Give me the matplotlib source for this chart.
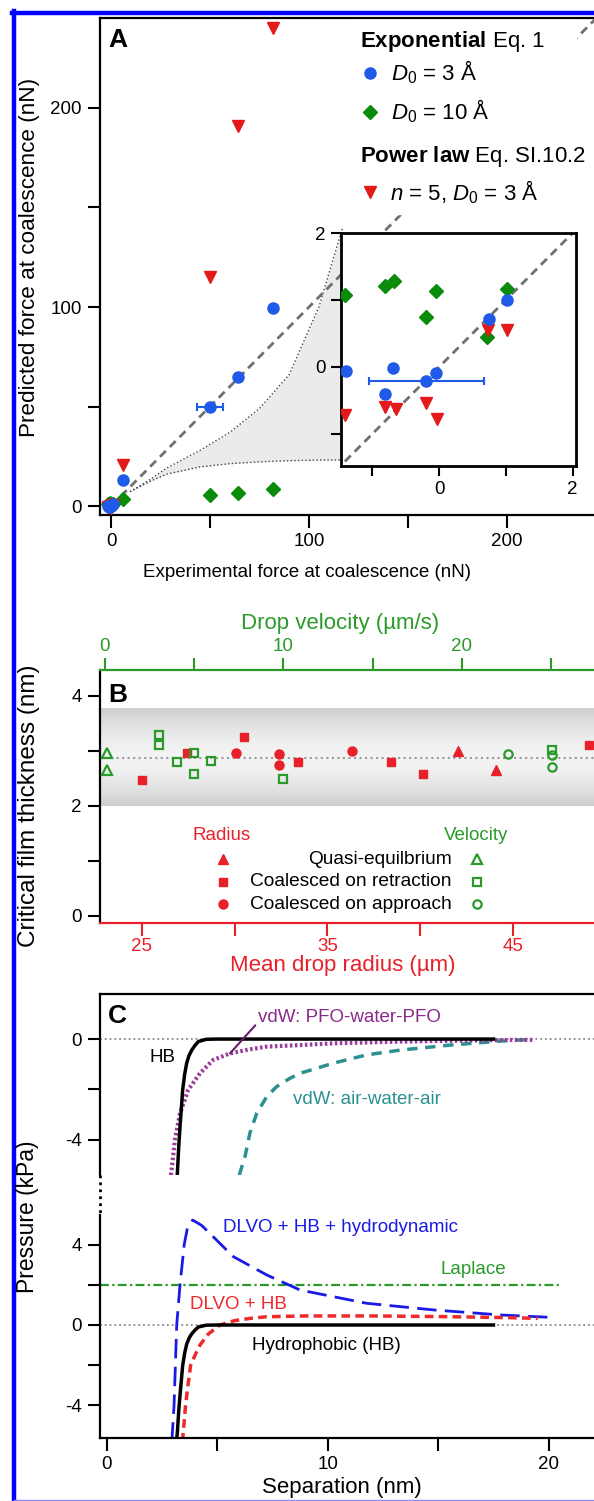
import numpy as np
import matplotlib
matplotlib.use('Agg')
import matplotlib.pyplot as plt
from matplotlib.lines import Line2D
from matplotlib.patches import Rectangle

plt.rcParams['font.family'] = ['Liberation Sans', 'DejaVu Sans']
plt.rcParams['mathtext.fontset'] = 'custom'
plt.rcParams['mathtext.rm'] = 'Liberation Sans'
plt.rcParams['mathtext.it'] = 'Liberation Sans:italic'
plt.rcParams['mathtext.bf'] = 'Liberation Sans:bold'
plt.rcParams['axes.unicode_minus'] = False
plt.rcParams['xtick.labelsize'] = 13.5
plt.rcParams['ytick.labelsize'] = 13.5

# ---- panel A : predicted vs experimental force (nN) ----
a_blue_x = [6, 50, 64, 82]
a_blue_y = [13, 50, 65, 99.5]
a_blue_xerr = [0, 6.6, 0, 0]
a_green_x = [6, 50, 64, 82]
a_green_y = [3.5, 5.5, 6.5, 8.5]
a_red_x = [6, 50, 64, 82]
a_red_y = [20.6, 115, 191, 240]

# small forces, shown in the inset (and near the origin of the main plot)
in_blue_x = [-1.39, -0.685, -0.81, -0.195, -0.045, 0.74, 1.015]
in_blue_y = [-0.055, -0.02, -0.40, -0.205, -0.085, 0.715, 1.0]
in_blue_xerr = [0, 0, 0, 0.86, 0, 0, 0]
in_green_x = [-1.41, -0.81, -0.67, -0.045, -0.195, 1.01, 0.715]
in_green_y = [1.08, 1.21, 1.29, 1.13, 0.75, 1.16, 0.445]
in_red_x = [-1.41, -0.81, -0.65, -0.195, -0.035, 0.73, 1.015]
in_red_y = [-0.72, -0.595, -0.635, -0.535, -0.785, 0.555, 0.555]

# bounds of the grey region
band_x = [9.6, 20, 28, 45, 60, 75, 90, 105, 117]
band_lo = [7.2, 12.5, 16, 19.7, 21.3, 22.2, 22.8, 23.1, 23.2]
band_hi = [7.2, 13.5, 19, 28, 37, 49, 66, 100, 140]

# ---- panel B : critical film thickness (nm) ----
vel_tri_x = [0.15, 0.15]
vel_tri_y = [2.97, 2.65]
vel_sq_x = [3.04, 3.04, 4.03, 5.0, 5.0, 5.93, 10.0, 25.06]
vel_sq_y = [3.29, 3.11, 2.79, 2.97, 2.58, 2.81, 2.48, 3.02]
vel_circ_x = [22.6, 25.06, 25.06]
vel_circ_y = [2.95, 2.92, 2.71]

rad_tri_x = [42.05, 44.06]
rad_tri_y = [2.99, 2.65]
rad_sq_x = [25.0, 27.42, 30.53, 33.43, 38.43, 40.13, 49.1]
rad_sq_y = [2.47, 2.97, 3.25, 2.79, 2.79, 2.58, 3.11]
rad_circ_x = [30.1, 32.41, 32.41, 36.31]
rad_circ_y = [2.97, 2.95, 2.75, 2.99]

h_mean = 2.87
h_band = (2.0, 3.78)

# ---- panel C : pressure (kPa) vs separation (nm) ----
hb_x = [3.16, 3.2, 3.26, 3.32, 3.44, 3.53, 3.62, 3.73, 3.85, 4.0, 4.15, 4.5, 5.0, 8, 12, 17.5]
hb_y = [-5.8, -5.33, -4.3, -3.48, -2.02, -1.4, -0.96, -0.65, -0.44, -0.25, -0.1, -0.01, 0, 0, 0, 0]
pfo_x = [2.88, 2.94, 3.09, 3.32, 3.69, 4.22, 4.82, 5.58, 6.4, 7.24, 8.75, 10.25, 13.27, 17.8, 19.3]
pfo_y = [-5.6, -5.2, -4.0, -2.95, -2.02, -1.36, -0.83, -0.57, -0.42, -0.3, -0.24, -0.17, -0.1, -0.04, -0.03]
air_x = [6.0, 6.26, 6.48, 6.79, 7.24, 7.69, 8.29, 8.75, 10.25, 11.76, 13.27, 15.53, 17.8, 19.3]
air_y = [-5.4, -4.67, -3.74, -2.95, -2.29, -1.89, -1.56, -1.36, -0.96, -0.63, -0.44, -0.24, -0.08, -0.01]
dlvo_x = [3.43, 3.57, 3.68, 3.8, 4.0, 4.22, 4.6, 5.13, 5.8, 6.5, 7.24, 9, 12, 15, 18, 19.5]
dlvo_y = [-5.8, -4.0, -3.0, -2.0, -1.5, -1.0, -0.45, 0.0, 0.22, 0.33, 0.41, 0.45, 0.45, 0.42, 0.37, 0.33]
hydro_x = [2.95, 3.05, 3.17, 3.32, 3.51, 3.65, 3.89, 4.3, 4.82, 5.73, 7.24, 8.75, 10.25, 11.76, 14.78, 17.8, 20.06]
hydro_y = [-5.8, -4.0, 0.0, 2.0, 4.0, 4.8, 5.22, 4.95, 4.39, 3.4, 2.49, 1.74, 1.41, 1.08, 0.75, 0.5, 0.38]
laplace = 2.0
laplace_span = (-0.3, 20.5)

BLUE = '#1f5ae8'
GREEN = '#0a8c0a'
RED = '#e41a1a'
BRED = '#e8202a'
BGREEN = '#2a9a2a'

W, H = 594, 1501


def fx(px):
    return px / W


def fy(py):
    return 1 - py / H


def box(l, t, r, b):
    return [fx(l), fy(b), (r - l) / W, (b - t) / H]


def style_ticks(ax, length=9):
    ax.tick_params(which='both', direction='out', length=length, width=1.5, pad=4)
    for s in ax.spines.values():
        s.set_linewidth(1.6)


fig = plt.figure(figsize=(W / 100, H / 100), dpi=100)

# ================= A =================
ax = fig.add_axes(box(100, 18, 600, 515))
ax.set_xlim(-5.56, 247)
ax.set_ylim(-4.5, 245.2)
ax.spines['right'].set_visible(False)
ax.fill_between(band_x, band_lo, band_hi, color='#ebebeb', lw=0, zorder=1)
ax.plot(band_x, band_lo, ':', color='#444444', lw=1, zorder=2)
ax.plot(band_x, band_hi, ':', color='#444444', lw=1, zorder=2)
ax.plot([0, 250], [0, 250], '--', color='#707070', lw=2, dashes=(3, 2), zorder=2)
# white background of the legend hides the diagonal there
ax.add_patch(Rectangle((fx(352), fy(214)), fx(576) - fx(352), fy(20) - fy(214),
                       transform=fig.transFigure, color='white', zorder=3))
ax.errorbar(a_blue_x, a_blue_y, xerr=a_blue_xerr, fmt='o', color=BLUE, ms=8,
            capsize=3, elinewidth=1.5, capthick=1.5, zorder=4)
ax.plot(a_green_x, a_green_y, 'D', color=GREEN, ms=7, zorder=4)
ax.plot(a_red_x, a_red_y, 'v', color=RED, ms=9, zorder=4)
ax.plot(in_green_x, in_green_y, 'D', color=GREEN, ms=7, zorder=4)
ax.plot(in_red_x, in_red_y, 'v', color=RED, ms=9, zorder=4)
ax.plot(in_blue_x, in_blue_y, 'o', color=BLUE, ms=8, zorder=4)
ax.set_xticks([0, 100, 200])
ax.set_xticks([50, 150], minor=True)
ax.set_yticks([0, 100, 200])
ax.set_yticks([50, 150], minor=True)
style_ticks(ax)

# inset
axi = fig.add_axes(box(341, 233, 576, 466))
axi.set_xlim(-1.47, 2.05)
axi.set_ylim(-1.48, 2.0)
axi.plot([-2, 3], [-2, 3], '--', color='#707070', lw=2, dashes=(3, 2), zorder=2)
axi.errorbar(in_blue_x, in_blue_y, xerr=in_blue_xerr, fmt='o', color=BLUE, ms=8,
             capsize=3, elinewidth=1.5, capthick=1.5, zorder=4)
axi.plot(in_green_x, in_green_y, 'D', color=GREEN, ms=7, zorder=4)
axi.plot(in_red_x, in_red_y, 'v', color=RED, ms=9, zorder=4)
axi.set_xticks([0, 2])
axi.set_xticks([-1, 1], minor=True)
axi.set_yticks([0, 2])
axi.set_yticks([-1, 1], minor=True)
style_ticks(axi, length=7)
for s in axi.spines.values():
    s.set_linewidth(2)

fig.text(fx(108), fy(47), 'A', fontsize=19, fontweight='bold')
fig.text(fx(30), fy(257), 'Predicted force at coalescence (nN)', rotation=90,
         ha='center', va='center', fontsize=16.2)
fig.text(fx(307), fy(573), 'Experimental force at coalescence (nN)',
         ha='center', va='center', fontsize=13.5)

# legend of panel A
fig.text(fx(360), fy(47), r'$\bf{Exponential}$ Eq. 1', fontsize=16)
fig.text(fx(391), fy(80), r'$\it{D}_0$ = 3 Å', fontsize=16)
fig.text(fx(391), fy(119), r'$\it{D}_0$ = 10 Å', fontsize=16)
fig.text(fx(360), fy(162), r'$\bf{Power\ law}$ Eq. SI.10.2', fontsize=16)
fig.text(fx(390), fy(200), r'$\it{n}$ = 5, $\it{D}_0$ = 3 Å', fontsize=16)
for py, mk, col, ms in [(73, 'o', BLUE, 8), (112, 'D', GREEN, 7), (192, 'v', RED, 9)]:
    fig.add_artist(Line2D([fx(370)], [fy(py)], marker=mk, color=col, ms=ms, ls='none'))

# ================= B =================
axb = fig.add_axes(box(100, 670, 600, 923))
grad = np.abs(np.linspace(-1, 1, 80))[:, None] ** 1.5
axb.imshow(grad, extent=[22.75, 49.68, h_band[0], h_band[1]], aspect='auto',
           cmap='Greys', vmin=-0.5, vmax=4.5, zorder=0)
axb.axhline(h_mean, ls=':', color='#999999', lw=1.5, zorder=1)
axb.plot(rad_tri_x, rad_tri_y, '^', color=BRED, ms=7, zorder=4)
axb.plot(rad_sq_x, rad_sq_y, 's', color=BRED, ms=6, zorder=4)
axb.plot(rad_circ_x, rad_circ_y, 'o', color=BRED, ms=6.5, zorder=4)
axb.set_xlim(22.75, 49.68)
axb.set_ylim(-0.13, 4.47)
axb.set_xticks([25, 35, 45])
axb.set_xticks([30, 40], minor=True)
axb.set_yticks([0, 2, 4])
axb.set_yticks([1, 3], minor=True)
style_ticks(axb)
axb.tick_params(axis='x', which='both', colors=BRED, pad=1.5)
axb.spines['bottom'].set_color(BRED)
axb.spines['top'].set_visible(False)
axb.spines['right'].set_visible(False)

axt = axb.twiny()
axt.set_xlim(-0.26, 27.73)
axt.plot(vel_tri_x, vel_tri_y, '^', mfc='none', mec=BGREEN, mew=1.6, ms=6.5, zorder=4)
axt.plot(vel_sq_x, vel_sq_y, 's', mfc='none', mec=BGREEN, mew=1.6, ms=6, zorder=4)
axt.plot(vel_circ_x, vel_circ_y, 'o', mfc='none', mec=BGREEN, mew=1.6, ms=6, zorder=4)
axt.set_xticks([0, 10, 20])
axt.set_xticks([5, 15, 25], minor=True)
style_ticks(axt)
axt.tick_params(axis='x', which='both', colors=BGREEN, pad=2)
axt.spines['top'].set_color(BGREEN)
for side in ['bottom', 'left', 'right']:
    axt.spines[side].set_visible(False)

fig.text(fx(108), fy(702), 'B', fontsize=19, fontweight='bold')
fig.text(fx(29), fy(806), 'Critical film thickness (nm)', rotation=90,
         ha='center', va='center', fontsize=17.5)
fig.text(fx(340), fy(623), 'Drop velocity (µm/s)', ha='center', va='center',
         fontsize=16, color=BGREEN)
fig.text(fx(343), fy(966), 'Mean drop radius (µm)', ha='center', va='center',
         fontsize=16, color=BRED)

# legend of panel B
fig.text(fx(222), fy(835), 'Radius', ha='center', va='center', fontsize=13.5, color=BRED)
fig.text(fx(476), fy(835), 'Velocity', ha='center', va='center', fontsize=13.5, color=BGREEN)
rows = [(859, '^', 'Quasi-equilbrium', 7, 6.5),
        (882, 's', 'Coalesced on retraction', 6, 6),
        (904, 'o', 'Coalesced on approach', 6.5, 6)]
for py, mk, txt, ms_f, ms_o in rows:
    fig.text(fx(452), fy(py), txt, ha='right', va='center', fontsize=13.8)
    fig.add_artist(Line2D([fx(223)], [fy(py)], marker=mk, color=BRED, ms=ms_f, ls='none'))
    fig.add_artist(Line2D([fx(477)], [fy(py)], marker=mk, mfc='none', mec=BGREEN,
                          mew=1.6, ms=ms_o, ls='none'))

# ================= C =================
xlim_c = (-0.30, 22.32)
axc1 = fig.add_axes(box(100, 994, 600, 1175))
axc2 = fig.add_axes(box(100, 1215, 600, 1438))
axc1.set_xlim(*xlim_c)
axc2.set_xlim(*xlim_c)
axc1.set_ylim(-5.4, 1.79)
axc2.set_ylim(-5.62, 5.47)

axc1.axhline(0, ls=':', color='#888888', lw=1.3, zorder=1)
axc1.plot(air_x, air_y, color='#2a9090', lw=2.5, dashes=(3, 2.2))
axc1.plot(pfo_x, pfo_y, color='#9b3b9b', lw=3, ls=(0, (0.6, 0.6)))
axc1.plot(hb_x, hb_y, color='black', lw=2.5)
axc1.annotate('vdW: PFO-water-PFO', xy=(5.58, -0.57), xytext=(6.85, 0.87),
              fontsize=13.5, color='#8a2a8a', va='center',
              arrowprops=dict(arrowstyle='-', color='#6a1a6a', lw=1.5, shrinkA=0, shrinkB=0,
                              relpos=(0, 0.2)))
axc1.text(2.55, -0.75, 'HB', ha='center', va='center', fontsize=13.5)
axc1.text(8.43, -2.42, 'vdW: air-water-air', va='center', fontsize=13.5, color='#2a9090')
axc1.set_xticks([])
axc1.set_yticks([-4, 0])
axc1.set_yticks([-2], minor=True)
style_ticks(axc1)
for side in ['bottom', 'right']:
    axc1.spines[side].set_visible(False)

axc2.axhline(0, ls=':', color='#888888', lw=1.3, zorder=1)
axc2.hlines(laplace, *laplace_span, color='#2a9a2a', lw=1.6, linestyles=(0, (4, 1.5, 1, 1.5)))
axc2.plot(hydro_x, hydro_y, color='#1a1ae6', lw=2, dashes=(7, 3))
axc2.plot(dlvo_x, dlvo_y, color='#ee2a2a', lw=2.5, dashes=(2.5, 1.5))
axc2.plot(hb_x, hb_y, color='black', lw=2.5)
axc2.text(5.28, 4.83, 'DLVO + HB + hydrodynamic', va='center', fontsize=13.5, color='#1a1ae6')
axc2.text(15.1, 2.74, 'Laplace', va='center', fontsize=13.5, color='#2a9a2a')
axc2.text(3.77, 1.0, 'DLVO + HB', va='center', fontsize=13.5, color='#ee2a2a')
axc2.text(6.56, -1.0, 'Hydrophobic (HB)', va='center', fontsize=13.5)
axc2.set_xticks([0, 10, 20])
axc2.set_xticks([5, 15], minor=True)
axc2.set_yticks([-4, 0, 4])
axc2.set_yticks([-2, 2], minor=True)
style_ticks(axc2)
for side in ['top', 'right']:
    axc2.spines[side].set_visible(False)

fig.add_artist(Line2D([fx(100), fx(100)], [fy(1175), fy(1215)], ls=(0, (1, 1.5)),
                      lw=2, color='black'))
fig.text(fx(108), fy(1023), 'C', fontsize=19, fontweight='bold')
fig.text(fx(28), fy(1217), 'Pressure (kPa)', rotation=90, ha='center', va='center',
         fontsize=16.5)
fig.text(fx(342), fy(1487), 'Separation (nm)', ha='center', va='center', fontsize=16)

# blue frame
fig.add_artist(Line2D([fx(14), fx(14)], [fy(10.5), fy(1501)], color='#0000ff', lw=3.2))
fig.add_artist(Line2D([fx(12), fx(600)], [fy(12.5), fy(12.5)], color='#0000ff', lw=3.2))
fig.add_artist(Line2D([fx(14), fx(600)], [fy(1500), fy(1500)], color='#8c8cff', lw=1))

fig.savefig('out.png', dpi=100)
